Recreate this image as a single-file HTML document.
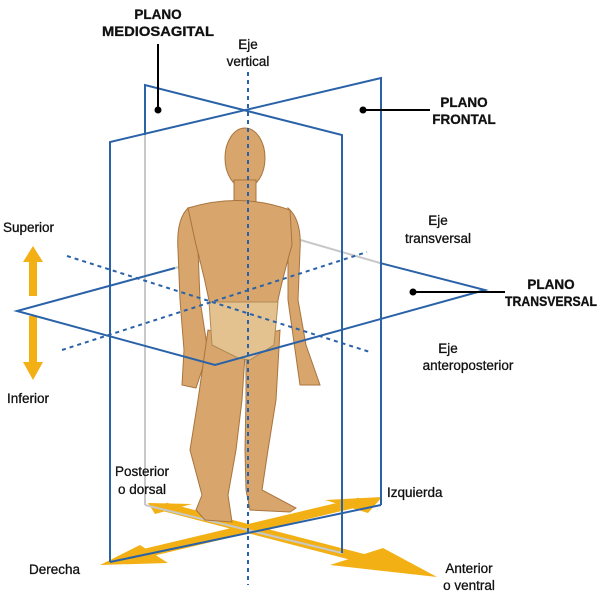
<!DOCTYPE html>
<html><head><meta charset="utf-8"><style>
html,body{margin:0;padding:0;background:#fff;}
svg{display:block;font-family:"Liberation Sans",Arial,sans-serif;}
</style></head><body>
<svg width="600" height="600" viewBox="0 0 600 600">
<!-- gray hidden lines -->
<g stroke="#c8c8c8" stroke-width="2" fill="none">
<line x1="145" y1="135" x2="145" y2="505"/>
<line x1="175" y1="268" x2="290" y2="237"/>
<line x1="290" y1="237" x2="380" y2="263"/>
</g>
<!-- floor arrows -->
<g stroke="#f2b014" stroke-width="9" fill="none">
<line x1="165" y1="507" x2="400" y2="568"/>
<line x1="125" y1="558" x2="360" y2="502"/>
</g>
<g fill="#f2b014">
<polygon points="100,565 140,545 168,563"/>
<polygon points="382,497 325,500 368,513"/>
<polygon points="437,577 383,548 330,565"/>
<polygon points="148,503 192,504 155,514"/>
<polygon points="33,246 43,262 37,262 37,296 29,296 29,262 23,262"/>
<polygon points="33,380 43,362 37,362 37,316 29,316 29,362 23,362"/>
</g>
<line x1="145" y1="505" x2="342" y2="553" stroke="#c8c8c8" stroke-width="2"/>
<!-- figure -->
<g fill="#d8a66c" stroke="#a8743e" stroke-width="1">
<ellipse cx="245" cy="158" rx="20" ry="30"/>
<rect x="234" y="180" width="22" height="24"/>
<path d="M188,208 Q176,220 178,250 L180,300 L184,350 L182,385 L196,388 L208,352 L200,300 L198,250 Z"/>
<path d="M288,208 Q302,220 300,250 L298,300 L306,345 L320,385 L300,385 L288,300 L288,250 Z"/>
<path d="M188,208 Q240,192 290,210 L292,245 Q282,280 277,305 L210,305 Q204,275 196,245 Z"/>
<path d="M208,330 L246,340 L242,400 L236,450 L228,495 L232,522 L205,520 L196,510 L202,495 L190,450 L198,400 Z"/>
<path d="M246,340 L280,330 L276,400 L268,450 L262,490 L296,508 L290,512 L250,510 L246,490 L245,450 L246,400 Z"/>
</g>
<path d="M209,302 L278,302 L274,345 L250,360 L238,358 L212,345 Z" fill="#e3c28f" stroke="#b08a55"/>
<!-- blue planes -->
<g stroke="#2a62a8" stroke-width="2" fill="none">
<polyline points="145,135 145,85 342,135 342,553"/>
<polyline points="110,562 110,142 381,78 381,505"/>
<line x1="110" y1="562" x2="381" y2="505"/>
<polyline points="175,268 17,311 215,365 485,290 380,263"/>
</g>
<!-- dashed axes -->
<g stroke="#2a62a8" stroke-width="2" fill="none" stroke-dasharray="4,4">
<line x1="248" y1="72" x2="248" y2="585"/>
<line x1="62" y1="350" x2="367" y2="252"/>
<line x1="67" y1="256" x2="370" y2="352"/>
</g>
<!-- leaders -->
<g stroke="#000" stroke-width="2">
<line x1="158" y1="44" x2="158" y2="110"/>
<line x1="363" y1="110" x2="430" y2="110"/>
<line x1="413" y1="292" x2="505" y2="292"/>
</g>
<circle cx="158" cy="110" r="3.5"/><circle cx="363" cy="110" r="3.5"/><circle cx="413" cy="292" r="3.5"/>
<!-- labels -->
<g font-size="13.5" fill="#111" stroke="#111" stroke-width="0.3">
<g font-weight="bold" text-anchor="middle">
<text x="158" y="19">PLANO</text><text x="158" y="36" textLength="112" lengthAdjust="spacingAndGlyphs">MEDIOSAGITAL</text>
<text x="464" y="107">PLANO</text><text x="464" y="124">FRONTAL</text>
<text x="551" y="289">PLANO</text>
</g>
<text x="505" y="306" font-weight="bold" textLength="92" lengthAdjust="spacingAndGlyphs">TRANSVERSAL</text>
<g text-anchor="middle">
<text x="248" y="49">Eje</text><text x="248" y="66">vertical</text>
<text x="438" y="225">Eje</text><text x="438" y="243">transversal</text>
<text x="448" y="353">Eje</text><text x="468" y="370">anteroposterior</text>
<text x="142" y="476">Posterior</text><text x="142" y="494">o dorsal</text>
<text x="469" y="573">Anterior</text><text x="469" y="590">o ventral</text>
</g>
<text x="3" y="232">Superior</text>
<text x="7" y="403">Inferior</text>
<text x="387" y="497">Izquierda</text>
<text x="29" y="574">Derecha</text>
</g>
</svg>
</body></html>
